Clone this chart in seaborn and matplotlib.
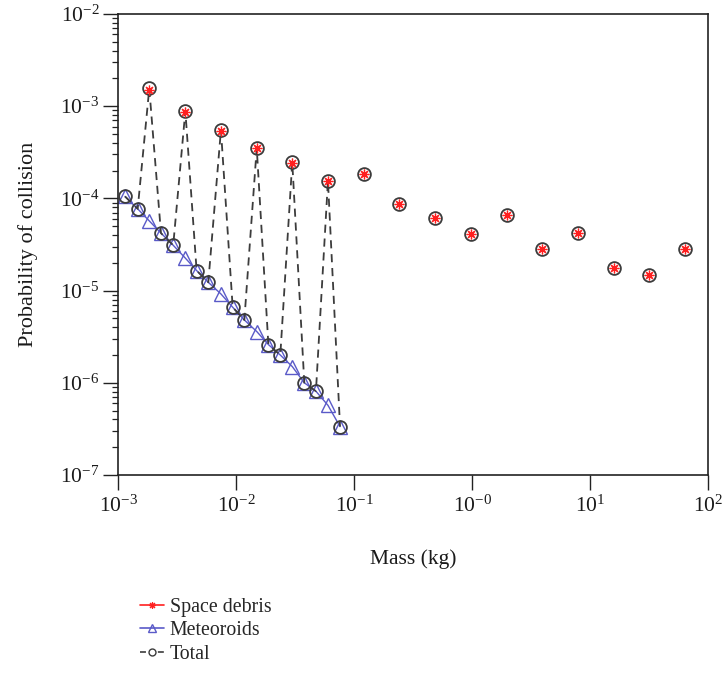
import numpy as np
import pandas as pd
import matplotlib
matplotlib.use("Agg")
import matplotlib.pyplot as plt
import seaborn as sns
from matplotlib.lines import Line2D
from matplotlib.ticker import FixedLocator, NullLocator, LogLocator, NullFormatter

# Meteoroid flux-based collision probability on a fine mass grid
meteoroid_mass = [1.14e-3, 1.46e-3, 1.83e-3, 2.30e-3, 2.92e-3, 3.70e-3, 4.61e-3,
                  5.79e-3, 7.41e-3, 9.32e-3, 1.17e-2, 1.49e-2, 1.87e-2, 2.36e-2,
                  2.98e-2, 3.77e-2, 4.73e-2, 5.98e-2, 7.57e-2]
meteoroid_prob = [1.05e-4, 7.7e-5, 5.7e-5, 4.2e-5, 3.1e-5, 2.25e-5, 1.65e-5,
                  1.23e-5, 9.2e-6, 6.6e-6, 4.8e-6, 3.6e-6, 2.6e-6, 2.0e-6,
                  1.5e-6, 1.0e-6, 8.1e-7, 5.7e-7, 3.35e-7]

# Space debris collision probability per mass bin
debris_mass = [1.83e-3, 3.70e-3, 7.41e-3, 1.49e-2, 2.98e-2, 5.98e-2,
               0.120, 0.241, 0.486, 0.975, 1.96, 3.92, 7.87, 15.8, 31.6, 63.8]
debris_prob = [1.50e-3, 8.65e-4, 5.43e-4, 3.48e-4, 2.45e-4, 1.54e-4,
               1.82e-4, 8.7e-5, 6.1e-5, 4.15e-5, 6.6e-5, 2.8e-5, 4.2e-5,
               1.77e-5, 1.47e-5, 2.85e-5]

x_ticks = [1e-3, 1e-2, 1e-1, 1e0, 1e1, 1e2]
x_tick_labels = [r"$10^{-3}$", r"$10^{-2}$", r"$10^{-1}$", r"$10^{-0}$",
                 r"$10^{1}$", r"$10^{2}$"]
y_ticks = [1e-7, 1e-6, 1e-5, 1e-4, 1e-3, 1e-2]
y_tick_labels = [r"$10^{-7}$", r"$10^{-6}$", r"$10^{-5}$", r"$10^{-4}$",
                 r"$10^{-3}$", r"$10^{-2}$"]

series_labels = ["Space debris", "Meteoroids", "Total"]

# Tables for plotting
met_df = pd.DataFrame({"mass": meteoroid_mass, "prob": meteoroid_prob})
deb_df = pd.DataFrame({"mass": debris_mass, "prob": debris_prob})

# Total = meteoroids + debris on the shared grid; the dashed line only runs
# where both contributions are defined, other totals are isolated points
totals = dict(zip(meteoroid_mass, meteoroid_prob))
for m, p in zip(debris_mass, debris_prob):
    totals[m] = totals.get(m, 0.0) + p
tot_mass = sorted(totals)
max_met = max(meteoroid_mass)
tot_df = pd.DataFrame({
    "mass": tot_mass,
    "prob": [totals[m] for m in tot_mass],
    "unit": [0 if m <= max_met else k + 1 for k, m in enumerate(tot_mass)],
})

sns.set_theme(style="white")
plt.rcParams["font.family"] = ["Liberation Serif", "DejaVu Serif"]
plt.rcParams["mathtext.fontset"] = "custom"
plt.rcParams["mathtext.rm"] = "Liberation Serif"
plt.rcParams["mathtext.it"] = "Liberation Serif:italic"
plt.rcParams["mathtext.bf"] = "Liberation Serif:bold"

fig = plt.figure(figsize=(7.23, 6.79), dpi=100)
ax = fig.add_axes([118.3 / 723, 1 - 475 / 679, 590 / 723, 461 / 679])

red = "#ff2020"
blue = "#5a5ac8"
dark = "#3c3c3c"

sns.lineplot(data=met_df, x="mass", y="prob", ax=ax, color=blue, lw=1.0,
             marker="^", markersize=9.5, markerfacecolor="none",
             markeredgecolor=blue, markeredgewidth=1.0, legend=False,
             estimator=None, clip_on=False, zorder=2)
sns.lineplot(data=tot_df, x="mass", y="prob", units="unit", estimator=None,
             ax=ax, color=dark, lw=1.3, linestyle=(0, (4.5, 3.2)),
             marker="o", markersize=9.2, markerfacecolor="none",
             markeredgecolor=dark, markeredgewidth=1.3, legend=False,
             clip_on=False, zorder=3)
sns.lineplot(data=deb_df, x="mass", y="prob", ax=ax, color=red,
             linestyle="none", marker=(8, 2, 0), markersize=7,
             markeredgecolor=red, markeredgewidth=0.9, legend=False,
             estimator=None, clip_on=False, zorder=4)

ax.set_xscale("log")
ax.set_yscale("log")
ax.set_xlim(1e-3, 1e2)
ax.set_ylim(1e-7, 1e-2)

ax.xaxis.set_major_locator(FixedLocator(x_ticks))
ax.set_xticklabels(x_tick_labels)
ax.xaxis.set_minor_locator(NullLocator())
ax.yaxis.set_major_locator(FixedLocator(y_ticks))
ax.set_yticklabels(y_tick_labels)
ax.yaxis.set_minor_locator(LogLocator(base=10, subs=np.arange(2, 10), numticks=20))
ax.yaxis.set_minor_formatter(NullFormatter())

ax.tick_params(axis="both", which="major", direction="out", length=10.5,
               width=1.0, color="#222222", labelsize=15.5, pad=3,
               labelcolor="#1a1a1a")
ax.tick_params(axis="x", which="major", pad=4)
ax.tick_params(axis="y", which="minor", direction="out", length=4,
               width=0.9, color="#222222", left=True)
ax.tick_params(bottom=True, left=True, top=False, right=False)

for side in ["left", "right", "top", "bottom"]:
    ax.spines[side].set_visible(True)
    ax.spines[side].set_color("#222222")
    ax.spines[side].set_linewidth(1.2)

ax.set_xlabel("Mass (kg)", fontsize=15.5, labelpad=24, color="#1a1a1a")
ax.set_ylabel("Probability of collision", fontsize=16, labelpad=16,
              color="#1a1a1a")
ax.grid(False)

handle_len = 1.2
legend_fs = 14.3
legend_lw = 1.2
line_pts = handle_len * legend_fs
handles = [
    Line2D([], [], color=red, lw=legend_lw, marker=(8, 2, 0), markersize=5,
           markeredgecolor=red, markeredgewidth=0.8),
    Line2D([], [], color=blue, lw=legend_lw, marker="^", markersize=6,
           markerfacecolor="none", markeredgecolor=blue, markeredgewidth=1.0),
    Line2D([], [], color=dark, lw=legend_lw,
           linestyle=(0, (line_pts * 0.25 / legend_lw,
                          line_pts * 0.5 / legend_lw)),
           marker="o", markersize=5, markerfacecolor="none",
           markeredgecolor=dark, markeredgewidth=1.0),
]
fig.legend(handles, series_labels, loc="upper left",
           bbox_to_anchor=(140 / 723, 1 - 598 / 679), frameon=False,
           fontsize=legend_fs, handlelength=handle_len, handletextpad=0.3,
           labelspacing=0.22, borderpad=0, borderaxespad=0)

fig.savefig("out.png", dpi=100)
